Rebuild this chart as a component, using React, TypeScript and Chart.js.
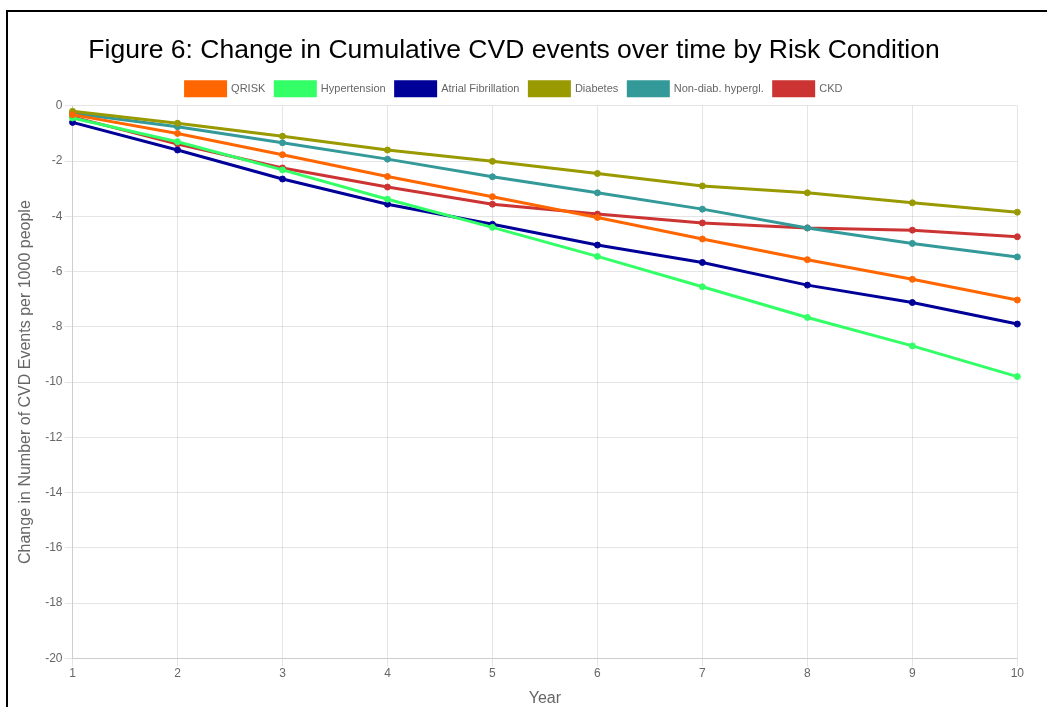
import React, { useEffect, useRef } from "react";
import { Chart, registerables } from "chart.js";

Chart.register(...registerables);

const years = ["1", "2", "3", "4", "5", "6", "7", "8", "9", "10"];
const qrisk = [-0.32, -1.0, -1.77, -2.56, -3.29, -4.04, -4.82, -5.57, -6.28, -7.03];
const hypertension = [-0.44, -1.3, -2.32, -3.38, -4.4, -5.45, -6.55, -7.66, -8.69, -9.8];
const atrialFib = [-0.6, -1.6, -2.65, -3.56, -4.29, -5.04, -5.67, -6.49, -7.12, -7.9];
const diabetes = [-0.2, -0.63, -1.1, -1.6, -2.01, -2.45, -2.9, -3.15, -3.51, -3.85];
const nonDiabHypergl = [-0.27, -0.76, -1.34, -1.93, -2.57, -3.15, -3.74, -4.42, -4.98, -5.47];
const ckd = [-0.4, -1.38, -2.25, -2.94, -3.56, -3.92, -4.24, -4.42, -4.5, -4.74];

const seriesNames = ["QRISK", "Hypertension", "Atrial Fibrillation", "Diabetes", "Non-diab. hypergl.", "CKD"];
const seriesColors = ["#FF6600", "#33FF66", "#000099", "#999900", "#339999", "#CC3333"];

export default function App() {
  const ref = useRef<HTMLCanvasElement>(null);
  useEffect(() => {
    if (!ref.current) return;
    const font = "Arial, 'Liberation Sans', sans-serif";
    Chart.defaults.font.family = font;
    const values = [qrisk, hypertension, atrialFib, diabetes, nonDiabHypergl, ckd];
    const chart = new Chart(ref.current, {
      type: "line",
      data: {
        labels: years,
        datasets: values.map((v, i) => ({
          label: seriesNames[i],
          data: v,
          borderColor: seriesColors[i],
          backgroundColor: seriesColors[i],
          borderWidth: 3,
          pointRadius: 3,
          pointBorderWidth: 1,
          fill: false,
          tension: 0,
        })),
      },
      options: {
        animation: false,
        responsive: false,
        maintainAspectRatio: false,
        layout: { padding: { top: 11, right: 0, left: 0, bottom: 0 } },
        plugins: {
          title: {
            display: true,
            text: "Figure 6: Change in Cumulative CVD events over time by Risk Condition",
            font: { size: 26.5, weight: "normal", family: font },
            color: "#000",
            padding: { top: 10, bottom: 5 },
          },
          legend: {
            labels: {
              font: { size: 11, family: font },
              color: "#666",
              boxWidth: 40,
              boxHeight: 14,
              padding: 10,
            },
          },
          tooltip: { enabled: false },
        },
        scales: {
          x: {
            title: {
              display: true,
              text: "Year",
              font: { size: 16, family: font },
              color: "#666",
              padding: { top: 8, bottom: 0 },
            },
            ticks: { color: "#666", font: { size: 12, family: font }, padding: 0 },
          },
          y: {
            min: -20,
            max: 0,
            ticks: { stepSize: 2, color: "#666", font: { size: 12, family: font }, padding: 2 },
            title: {
              display: true,
              text: "Change in Number of CVD Events per 1000 people",
              font: { size: 16, family: font },
              color: "#666",
              padding: { top: 12, bottom: 8 },
            },
          },
        },
      },
    });
    return () => chart.destroy();
  }, []);
  return (
    <div style={{ position: "fixed", left: 0, top: 0, width: 1047, height: 707, overflow: "hidden", background: "#fff" }}>
      <div style={{ position: "absolute", left: 6, top: 10, width: 1100, height: 800, border: "2px solid #000" }} />
      <canvas ref={ref} width={1020} height={694} style={{ position: "absolute", left: 4, top: 14, width: 1020, height: 694 }} />
    </div>
  );
}
